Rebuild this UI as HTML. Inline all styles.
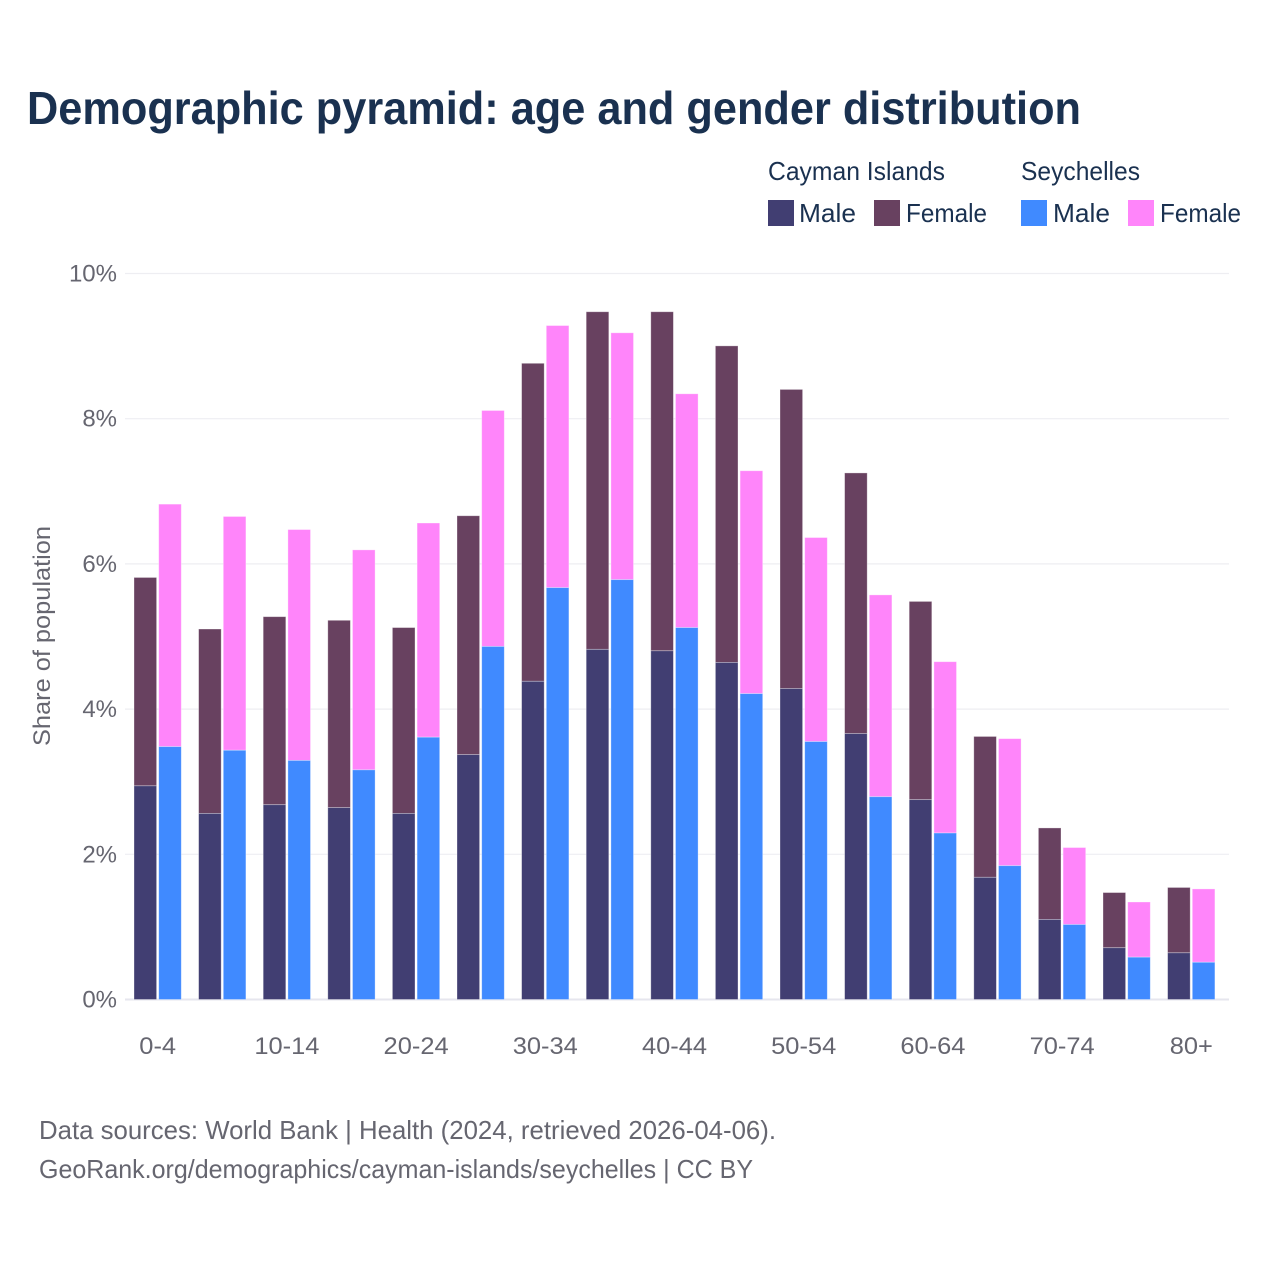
<!DOCTYPE html>
<html lang="en">
<head>
<meta charset="utf-8">
<title>Demographic pyramid: age and gender distribution</title>
<style>
html,body{margin:0;padding:0;background:#fff;width:1280px;height:1280px;overflow:hidden}
svg{display:block}
text{font-family:"Liberation Sans",sans-serif}
</style>
</head>
<body>
<svg id="chart" xmlns="http://www.w3.org/2000/svg" width="1280" height="1280" viewBox="0 0 1280 1280">
  <rect x="0" y="0" width="1280" height="1280" fill="#fff"/>
  <text x="27" y="124" font-size="46" font-weight="700" fill="#1a3150" textLength="1054" lengthAdjust="spacingAndGlyphs">Demographic pyramid: age and gender distribution</text>

  <g font-size="26" fill="#1a3150">
    <text x="768" y="180" textLength="177" lengthAdjust="spacingAndGlyphs">Cayman Islands</text>
    <text x="1021" y="180" textLength="119" lengthAdjust="spacingAndGlyphs">Seychelles</text>
    <rect x="768" y="200" width="26" height="26" fill="#413e72"/>
    <text x="799" y="222" textLength="57" lengthAdjust="spacingAndGlyphs">Male</text>
    <rect x="874" y="200" width="26" height="26" fill="#684160"/>
    <text x="906" y="222" textLength="81" lengthAdjust="spacingAndGlyphs">Female</text>
    <rect x="1021" y="200" width="26" height="26" fill="#408aff"/>
    <text x="1053" y="222" textLength="57" lengthAdjust="spacingAndGlyphs">Male</text>
    <rect x="1128" y="200" width="26" height="26" fill="#ff85fa"/>
    <text x="1160" y="222" textLength="81" lengthAdjust="spacingAndGlyphs">Female</text>
  </g>

  <g id="grid"></g>
  <g id="bars"></g>
  <g id="yticks"></g>
  <g id="xticks"></g>

  <text transform="translate(50,746) rotate(-90)" x="0" y="0" font-size="24" fill="#666670" textLength="220" lengthAdjust="spacingAndGlyphs">Share of population</text>

  <text x="39" y="1139" font-size="26" fill="#666670" textLength="737" lengthAdjust="spacingAndGlyphs">Data sources: World Bank | Health (2024, retrieved 2026-04-06).</text>
  <text x="39" y="1178" font-size="26" fill="#666670" textLength="714" lengthAdjust="spacingAndGlyphs">GeoRank.org/demographics/cayman-islands/seychelles | CC BY</text>
</svg>
<script>
const ageGroups = ["0-4","5-9","10-14","15-19","20-24","25-29","30-34","35-39","40-44","45-49","50-54","55-59","60-64","65-69","70-74","75-79","80+"];
const xTickLabels = ["0-4","10-14","20-24","30-34","40-44","50-54","60-64","70-74","80+"];
const yTickValues = [0,2,4,6,8,10];
const caymanMale = [2.95,2.57,2.69,2.65,2.57,3.38,4.39,4.83,4.81,4.65,4.29,3.67,2.76,1.69,1.11,0.72,0.65];
const caymanFemale = [2.87,2.54,2.59,2.58,2.56,3.29,4.38,4.65,4.67,4.36,4.12,3.59,2.73,1.94,1.26,0.76,0.90];
const seychellesMale = [3.49,3.44,3.30,3.17,3.62,4.87,5.68,5.79,5.13,4.22,3.56,2.80,2.30,1.85,1.04,0.59,0.52];
const seychellesFemale = [3.34,3.22,3.18,3.03,2.95,3.25,3.61,3.40,3.22,3.07,2.81,2.78,2.36,1.75,1.06,0.76,1.01];

const NS = "http://www.w3.org/2000/svg";
const barWidth = 22.6;
function yScale(v){ return 999.5 - v * 72.6; }
function xGroup(i){ return 134 + i * 64.6; }
function xCenter(i){ return xGroup(i) + 23.7; }
function make(tag, attrs, parent){
  const el = document.createElementNS(NS, tag);
  for (const k in attrs) el.setAttribute(k, attrs[k]);
  parent.appendChild(el);
  return el;
}
const grid = document.getElementById("grid");
const bars = document.getElementById("bars");
const yticks = document.getElementById("yticks");
const xticks = document.getElementById("xticks");

yTickValues.forEach(function(v){
  const line = make("line", {x1:125, x2:1229, y1:yScale(v), y2:yScale(v), stroke: v === 0 ? "#e6e6ee" : "#eeeef2", "stroke-width": v === 0 ? 2 : 1.2}, grid);
  
  
  const t = make("text", {x:117, y:yScale(v)+8, "text-anchor":"end", "font-size":24, fill:"#666670"}, yticks);
  t.textContent = v + "%";
  
  
});

xTickLabels.forEach(function(label){
  const i = ageGroups.indexOf(label);
  const t = make("text", {x:xCenter(i), y:1054, "text-anchor":"middle", "font-size":24, fill:"#666670"}, xticks);
  t.textContent = label;
  
  
  const w = t.getComputedTextLength();
  t.setAttribute("textLength", w * 1.06);
  t.setAttribute("lengthAdjust", "spacingAndGlyphs");
});

function drawSegment(x, base, value, fill){
  const top = yScale(base + value) + 0.5;
  const bottom = base === 0 ? yScale(0) : yScale(base) + 0.5;
  const r = make("rect", {x:x, y:top, width:barWidth, height:bottom - top, fill:fill, stroke:"#fff", "stroke-opacity":0.4, "stroke-width":0.8}, bars);
  
  
}
ageGroups.forEach(function(_, i){
  const x1 = xGroup(i), x2 = x1 + 24.7;
  drawSegment(x1, caymanMale[i], caymanFemale[i], "#684160");
  drawSegment(x1, 0, caymanMale[i], "#413e72");
  drawSegment(x2, seychellesMale[i], seychellesFemale[i], "#ff85fa");
  drawSegment(x2, 0, seychellesMale[i], "#408aff");
});
</script>
</body>
</html>
